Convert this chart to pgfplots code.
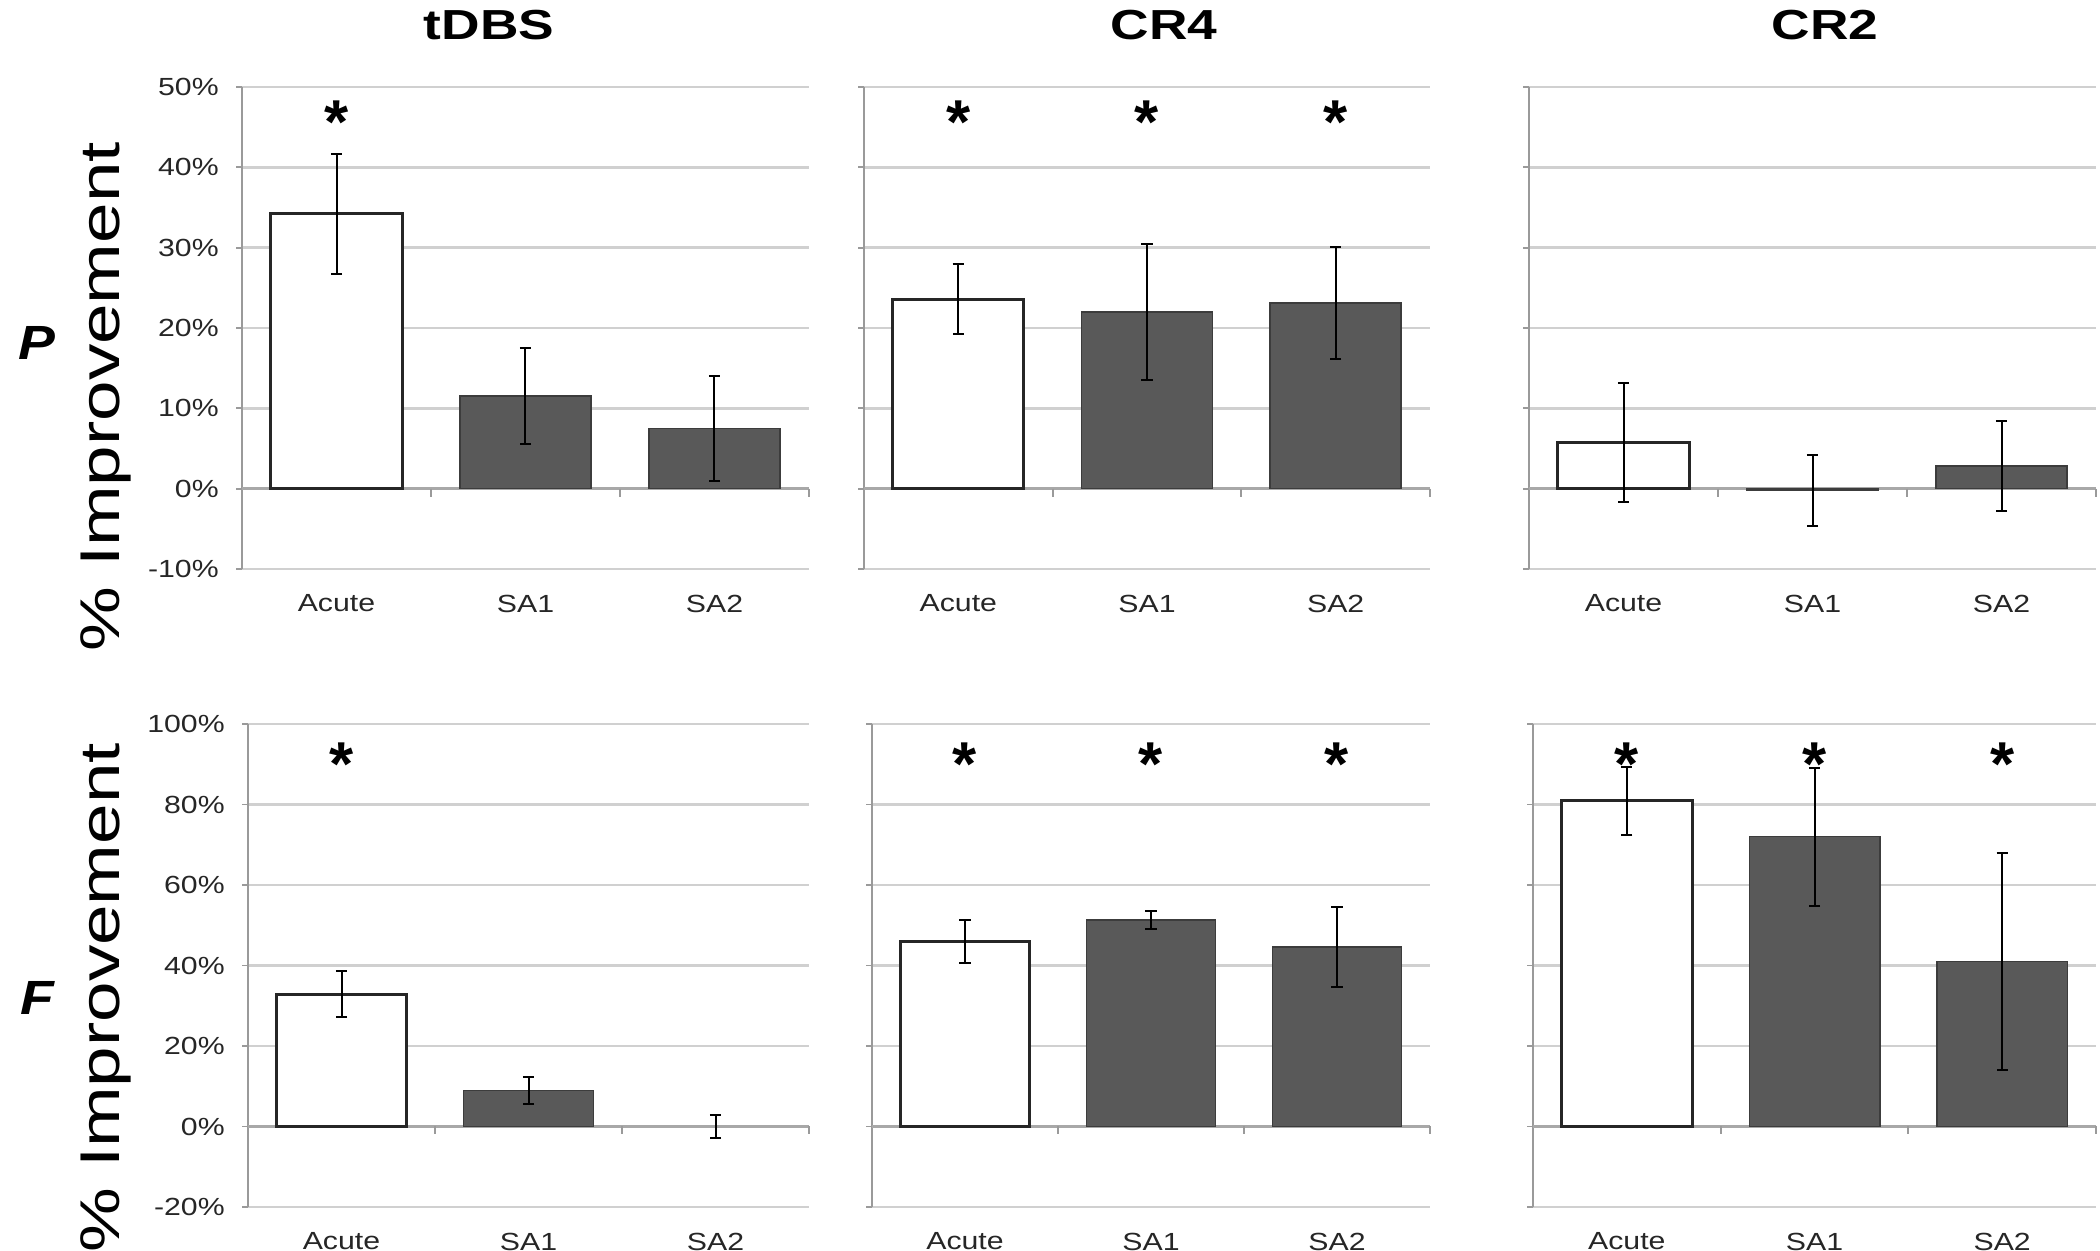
\documentclass[border=0pt]{standalone}
\usepackage{fontspec}
\setmainfont{Liberation Sans}
\usepackage{graphicx}
\usepackage{pgfplots}
\pgfplotsset{compat=1.18}
\definecolor{gridgray}{HTML}{D0D0D0}
\definecolor{zerogray}{HTML}{A8A8A8}
\definecolor{axisgray}{HTML}{9A9A9A}
\definecolor{bargray}{HTML}{595959}
\definecolor{barline}{HTML}{3C3C3C}
\newcommand{\sx}[1]{\scalebox{1.22}[1]{#1}}
\pgfplotsset{
  panel/.style={
    scale only axis, anchor=south west, clip=false,
    xmin=-0.5, xmax=2.5,
    xtick={0,1,2}, xticklabels={\sx{Acute},\sx{SA1},\sx{SA2}},
    axis y line*=left, axis x line*=bottom,
    x axis line style={draw=none},
    xtick style={draw=none},
    ymajorgrids, grid style={gridgray, line width=0.6pt},
    y axis line style={axisgray, line width=0.45pt},
    ytick style={axisgray, line width=0.45pt},
    tick align=outside, major tick length=1.5pt,
    tick label style={font=\fontsize{6.2}{7}\selectfont, text=black!85},
    xticklabel style={yshift=-1.4pt},
    yticklabel style={xshift=-0.8pt},
  },
  prow/.style={ymin=-10, ymax=50, ytick={-10,0,10,20,30,40,50}, height=120.5pt},
  frow/.style={ymin=-20, ymax=100, ytick={-20,0,20,40,60,80,100}, height=120.75pt},
  errs/.style={error bars/.cd, y dir=both, y explicit,
    error bar style={black, line width=0.5pt},
    error mark options={black, line width=0.5pt, mark size=1.4pt, rotate=90}},
  wbar/.style={ybar, bar width=0.695, bar shift=0pt, fill=white, draw=black!85, line width=0.75pt, errs},
  gbar/.style={ybar, bar width=0.695, bar shift=0pt, fill=bargray, draw=barline, line width=0.4pt, errs},
  nbar/.style={ybar, bar width=0.695, bar shift=0pt, fill=none, draw=none, errs},
}
\newcommand{\zeroline}{%
  \draw[zerogray, line width=0.6pt] (axis cs:-0.5,0) -- (axis cs:2.5,0);
  \draw[axisgray, line width=0.45pt] (axis cs:0.5,0) -- ([yshift=-2pt]axis cs:0.5,0);
  \draw[axisgray, line width=0.45pt] (axis cs:1.5,0) -- ([yshift=-2pt]axis cs:1.5,0);
  \draw[axisgray, line width=0.45pt] (axis cs:2.5,0) -- ([yshift=-2pt]axis cs:2.5,0);
}
\newcommand{\sig}[2]{\node[anchor=north, inner sep=0pt, font=\fontsize{15.5}{15.5}\bfseries] at (axis cs:#1,#2) {*};}
\begin{document}
\begin{tikzpicture}
\path[use as bounding box] (0,0) rectangle (525pt,312.75pt);
% titles
\node[font=\fontsize{10.5}{12}\bfseries] at ({489*0.25pt},{(1251-25)*0.25pt}) {\scalebox{1.27}[1]{tDBS}};
\node[font=\fontsize{10.5}{12}\bfseries] at ({1164*0.25pt},{(1251-25)*0.25pt}) {\scalebox{1.27}[1]{CR4}};
\node[font=\fontsize{10.5}{12}\bfseries] at ({1825*0.25pt},{(1251-25)*0.25pt}) {\scalebox{1.27}[1]{CR2}};
% row labels
\node[font=\fontsize{12}{14}\bfseries\itshape] at ({37*0.25pt},{(1251-343)*0.25pt}) {\scalebox{1.15}[1]{P}};
\node[font=\fontsize{12}{14}\bfseries\itshape] at ({37*0.25pt},{(1251-998)*0.25pt}) {\scalebox{1.15}[1]{F}};
\node[rotate=90, font=\fontsize{14}{16}\selectfont] at ({106*0.25pt},{(1251-397)*0.25pt}) {\scalebox{1.3}[1]{\% Improvement}};
\node[rotate=90, font=\fontsize{14}{16}\selectfont] at ({106*0.25pt},{(1251-998)*0.25pt}) {\scalebox{1.3}[1]{\% Improvement}};

% ---------- P row ----------
\begin{axis}[panel, prow, at={(60.5pt,170.5pt)}, width=141.75pt,
  yticklabels={\sx{-10\%},\sx{0\%},\sx{10\%},\sx{20\%},\sx{30\%},\sx{40\%},\sx{50\%}}]
\zeroline
\addplot[wbar] table[x=x, y=y, y error=e] {
x y e
0 34.2 7.5
};
\addplot[gbar] table[x=x, y=y, y error=e] {
x y e
1 11.5 6.0
2 7.5 6.5
};
\sig{0}{48.4}
\end{axis}

\begin{axis}[panel, prow, at={(216pt,170.5pt)}, width=141.5pt, yticklabels={}]
\zeroline
\addplot[wbar] table[x=x, y=y, y error=e] {
x y e
0 23.6 4.4
};
\addplot[gbar] table[x=x, y=y, y error=e] {
x y e
1 22.0 8.5
2 23.1 7.0
};
\sig{0}{48.4}\sig{1}{48.4}\sig{2}{48.4}
\end{axis}

\begin{axis}[panel, prow, at={(382.25pt,170.5pt)}, width=141.75pt, yticklabels={}]
\zeroline
\addplot[wbar] table[x=x, y=y, y error=e] {
x y e
0 5.8 7.4
};
\addplot[gbar] table[x=x, y=y, y error=e] {
x y e
1 -0.2 4.4
2 2.8 5.6
};
\end{axis}

% ---------- F row ----------
\begin{axis}[panel, frow, at={(62pt,11pt)}, width=140.25pt,
  yticklabels={\sx{-20\%},\sx{0\%},\sx{20\%},\sx{40\%},\sx{60\%},\sx{80\%},\sx{100\%}}]
\zeroline
\addplot[wbar] table[x=x, y=y, y error=e] {
x y e
0 32.9 5.8
};
\addplot[gbar] table[x=x, y=y, y error=e] {
x y e
1 8.9 3.3
};
\addplot[nbar] table[x=x, y=y, y error=e] {
x y e
2 0.0 2.8
};
\sig{0}{95.5}
\end{axis}

\begin{axis}[panel, frow, at={(218pt,11pt)}, width=139.5pt, yticklabels={}]
\zeroline
\addplot[wbar] table[x=x, y=y, y error=e] {
x y e
0 45.9 5.3
};
\addplot[gbar] table[x=x, y=y, y error=e] {
x y e
1 51.3 2.2
2 44.6 9.9
};
\sig{0}{95.5}\sig{1}{95.5}\sig{2}{95.5}
\end{axis}

\begin{axis}[panel, frow, at={(383.25pt,11pt)}, width=140.75pt, yticklabels={}]
\zeroline
\addplot[wbar] table[x=x, y=y, y error=e] {
x y e
0 80.9 8.4
};
\addplot[gbar] table[x=x, y=y, y error=e] {
x y e
1 72.0 17.1
2 41.0 26.9
};
\sig{0}{95.5}\sig{1}{95.5}\sig{2}{95.5}
\end{axis}
\end{tikzpicture}
\end{document}
